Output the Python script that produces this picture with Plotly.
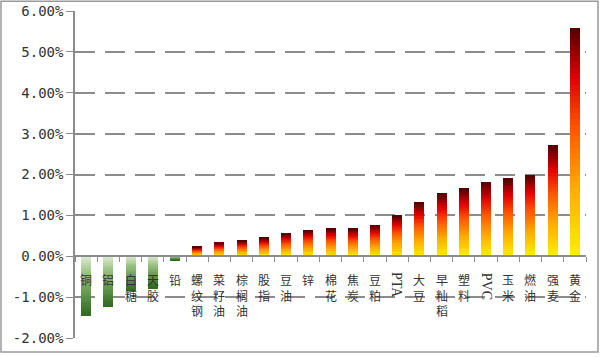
import numpy as np
import plotly.graph_objects as go

categories = ["铜", "铝", "白糖", "天胶", "铅", "螺纹钢", "菜籽油", "棕榈油", "股指", "豆油",
              "锌", "棉花", "焦炭", "豆粕", "PTA", "大豆", "早籼稻", "塑料", "PVC", "玉米",
              "燃油", "强麦", "黄金"]
values = [-1.46, -1.24, -0.85, -0.78, -0.10, 0.23, 0.33, 0.38, 0.45, 0.55,
          0.64, 0.67, 0.67, 0.76, 1.00, 1.32, 1.54, 1.66, 1.81, 1.91,
          1.99, 2.72, 5.59]
y_ticks = [-2, -1, 0, 1, 2, 3, 4, 5, 6]
y_tick_labels = ["-2.00%", "-1.00%", "0.00%", "1.00%", "2.00%", "3.00%", "4.00%", "5.00%", "6.00%"]

N = 40


def lerp_stops(stops, t):
    for (t0, c0), (t1, c1) in zip(stops[:-1], stops[1:]):
        if t0 <= t <= t1:
            f = (t - t0) / (t1 - t0) if t1 > t0 else 0
            c = [int(round(a + (b - a) * f)) for a, b in zip(c0, c1)]
            return "rgb(%d,%d,%d)" % tuple(c)
    return "rgb(%d,%d,%d)" % tuple(stops[-1][1])


pos_stops = [(0.0, (255, 240, 0)), (0.3, (255, 170, 0)), (0.55, (255, 90, 0)),
             (0.78, (225, 0, 0)), (1.0, (80, 0, 0))]
neg_stops = [(0.0, (225, 236, 215)), (0.3, (150, 192, 125)), (1.0, (45, 105, 30))]

vals = np.array(values)
fig = go.Figure()
for k in range(N):
    t = (k + 0.5) / N
    colors = [lerp_stops(pos_stops, t) if v >= 0 else lerp_stops(neg_stops, t) for v in values]
    fig.add_trace(go.Bar(x=categories, y=vals / N, width=0.45,
                         marker=dict(color=colors, line=dict(width=0)),
                         showlegend=False, hoverinfo="skip"))

annotations = []
for c in categories:
    if c.isascii():
        annotations.append(dict(x=c, y=0, xref="x", yref="y", text=c, textangle=90,
                                showarrow=False, yanchor="top", xanchor="center", yshift=-14,
                                font=dict(family="Liberation Serif", size=14, color="#333")))
    else:
        annotations.append(dict(x=c, y=0, xref="x", yref="y", text="<br>".join(c),
                                showarrow=False, yanchor="top", xanchor="center",
                                yshift=-14, borderpad=0,
                                font=dict(family="Noto Sans CJK SC", size=12, color="#333")))

fig.update_layout(
    width=600, height=357,
    margin=dict(l=75, r=14, t=11, b=19),
    paper_bgcolor="white", plot_bgcolor="white",
    barmode="relative", bargap=0,
    annotations=annotations,
    xaxis=dict(anchor="free", position=0.25, showline=True, linecolor="#8c8c8c", linewidth=1.5,
               ticks="outside", ticklen=5, tickcolor="#8c8c8c", tickson="boundaries",
               showticklabels=False, showgrid=False, zeroline=False, automargin=False),
    yaxis=dict(range=[-2, 6], tickvals=y_ticks, ticktext=y_tick_labels,
               showline=True, linecolor="#8c8c8c", linewidth=1.5,
               ticks="outside", ticklen=7, tickcolor="#8c8c8c",
               showgrid=True, gridcolor="#8c8c8c", gridwidth=1.5, griddash="20px,10px",
               zeroline=False, automargin=False,
               tickfont=dict(family="DejaVu Sans Mono", size=14, color="#333")),
    shapes=[dict(type="rect", xref="paper", yref="paper",
                 x0=-0.1448, x1=1.0235, y0=-0.043, y1=1.030,
                 line=dict(color="#9a9a9a", width=1.5))],
)

fig.write_html("out.html", config={"displayModeBar": False},
               post_script="document.body.style.margin='0';document.body.style.overflow='hidden';")
